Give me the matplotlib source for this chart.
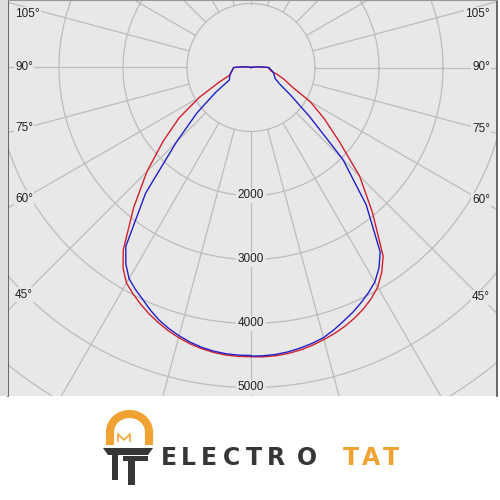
import matplotlib

matplotlib.use("Agg")

import matplotlib.pyplot as plt
import numpy as np
from matplotlib.patches import Polygon, Rectangle

# gamma angles (deg from nadir) and luminous intensity (cd) per half-plane
ANGLES = [0, 2.5, 5, 7.5, 10, 12.5, 15, 17.5, 20, 22.5, 25, 27.5, 30, 32.5, 35,
          40, 45, 50, 55, 60, 65, 70, 75, 80, 85, 90, 95, 100, 105, 120, 135, 150, 165, 180]
RED_RIGHT = [4520, 4525, 4520, 4505, 4480, 4445, 4400, 4355, 4300, 4235, 4160, 4070, 3960,
             3800, 3600, 2950, 2400, 1800, 1400, 1070, 700, 560, 430, 320, 290, 270, 120, 30,
             0, 0, 0, 0, 0, 0]
RED_LEFT = [4520, 4518, 4510, 4490, 4460, 4420, 4370, 4310, 4240, 4165, 4080, 3990, 3890,
            3720, 3480, 2850, 2300, 1790, 1370, 930, 560, 360, 320, 300, 285, 270, 120, 30,
            0, 0, 0, 0, 0, 0]
BLUE_RIGHT = [4510, 4508, 4500, 4480, 4450, 4415, 4370, 4300, 4220, 4145, 4060, 3970, 3870,
              3720, 3520, 2800, 2030, 1200, 760, 520, 420, 390, 370, 340, 305, 280, 120, 30,
              0, 0, 0, 0, 0, 0]
BLUE_LEFT = [4500, 4498, 4490, 4470, 4440, 4395, 4340, 4275, 4200, 4105, 4000, 3910, 3810,
             3640, 3410, 2560, 1650, 1100, 670, 390, 370, 350, 330, 305, 285, 270, 120, 30,
             0, 0, 0, 0, 0, 0]

RING_VALUES = [1000, 2000, 3000, 4000, 5000, 6000, 7000]
RING_LABELS = ["2000", "3000", "4000", "5000"]
SIDE_ANGLES = [105, 90, 75, 60, 45]

BG = "#e8e8e8"
GRID = "#bcbcbc"
RED = "#d0202c"
BLUE = "#2020c8"
ORANGE = "#f0a232"
DARK = "#363636"

# pixel geometry of the original diagram
PX = 15.625          # cd per pixel
CX, CY = 251, 67.5   # centre in pixels


def to_xy(angles, values, side):
    a = np.radians(np.asarray(angles, dtype=float))
    r = np.asarray(values, dtype=float)
    return side * r * np.sin(a), -r * np.cos(a)


fig = plt.figure(figsize=(5, 5), dpi=100, facecolor="white")
fig.patches.append(Rectangle((0, 104 / 500), 8 / 500, 396 / 500, transform=fig.transFigure,
                             facecolor="#dedede", edgecolor="none", zorder=0))

ax = fig.add_axes([8 / 500, 104 / 500, 489 / 500, 396 / 500])
ax.set_facecolor(BG)
ax.set_xlim((8 - CX) * PX, (497 - CX) * PX)
ax.set_ylim(-(396 - CY) * PX, CY * PX)
ax.set_xticks([])
ax.set_yticks([])
for side in ("left", "right"):
    ax.spines[side].set_color("#505050")
    ax.spines[side].set_linewidth(1.2)
ax.spines["top"].set_color("#999999")
ax.spines["bottom"].set_visible(False)

# grid rings and radial spokes
t = np.linspace(0, 2 * np.pi, 361)
for rv in RING_VALUES:
    ax.plot(rv * np.cos(t), rv * np.sin(t), color=GRID, lw=0.9, zorder=1)
for deg in range(0, 360, 15):
    a = np.radians(deg)
    ax.plot([1000 * np.sin(a), 8000 * np.sin(a)], [-1000 * np.cos(a), -8000 * np.cos(a)],
            color=GRID, lw=0.9, zorder=1)

# curves
rx, ry = to_xy(ANGLES, RED_RIGHT, 1)
lx, ly = to_xy(ANGLES, RED_LEFT, -1)
ax.plot(np.r_[lx[::-1], rx], np.r_[ly[::-1], ry], color=RED, lw=1.0, zorder=3)
rx, ry = to_xy(ANGLES, BLUE_RIGHT, 1)
lx, ly = to_xy(ANGLES, BLUE_LEFT, -1)
ax.plot(np.r_[lx[::-1], rx], np.r_[ly[::-1], ry], color=BLUE, lw=1.0, zorder=4)

box = dict(facecolor=BG, edgecolor="none", pad=1.0)
font = dict(family="Liberation Sans", size=8.5, color="#222222")
for lab in RING_LABELS:
    ax.text(0, -float(lab), lab, ha="center", va="center", bbox=box, zorder=5, **font)

ymax = CY * PX - 14 * PX
for deg in SIDE_ANGLES:
    a = np.radians(deg)
    xl = (CX - 24) * PX
    y = min(-xl / np.tan(a) if deg != 90 else 0.0, ymax)
    ax.text(-(CX - 15) * PX, y, f"{deg}°", ha="left", va="center", bbox=box, zorder=5, **font)
    xr = (481 - CX) * PX
    y = min(-xr / np.tan(a) if deg != 90 else 0.0, ymax)
    ax.text((490 - CX) * PX, y, f"{deg}°", ha="right", va="center", bbox=box, zorder=5, **font)

# logo strip
lg = fig.add_axes([0, 0, 1, 104 / 500])
lg.set_xlim(0, 500)
lg.set_ylim(500, 396)
lg.axis("off")

s = np.linspace(np.pi, 0, 60)
arch_x = np.r_[110, 129.5 + 19.5 * np.cos(s), 149]
arch_y = np.r_[445, 432 - 18 * np.sin(s), 445]
lg.plot(arch_x, arch_y, color=ORANGE, lw=5.8, solid_capstyle="butt", solid_joinstyle="round")
lg.plot([118, 118, 124, 130, 130], [441, 434, 440, 434, 441], color=ORANGE, lw=1.2)
lg.add_patch(Polygon([[103, 448], [153, 448], [148, 455], [108, 455]], closed=True,
                     facecolor=DARK, edgecolor="none"))
lg.add_patch(Rectangle((112, 455), 6, 25, facecolor=DARK, edgecolor="none"))
lg.add_patch(Rectangle((123, 456), 25, 5, facecolor=DARK, edgecolor="none"))
lg.add_patch(Rectangle((128, 461), 7, 24, facecolor=DARK, edgecolor="none"))

letters = "ELECTRO" + "TAT"
centers = [168.5, 188.5, 208.5, 231.5, 253.5, 276, 306.5, 351, 371.5, 391]
for i, (ch, xc) in enumerate(zip(letters, centers)):
    lg.text(xc, 465, ch, ha="center", va="baseline", fontsize=17, family="DejaVu Sans",
            weight="bold", color=DARK if i < 7 else ORANGE)

fig.savefig("out.png", dpi=100, facecolor="white")
